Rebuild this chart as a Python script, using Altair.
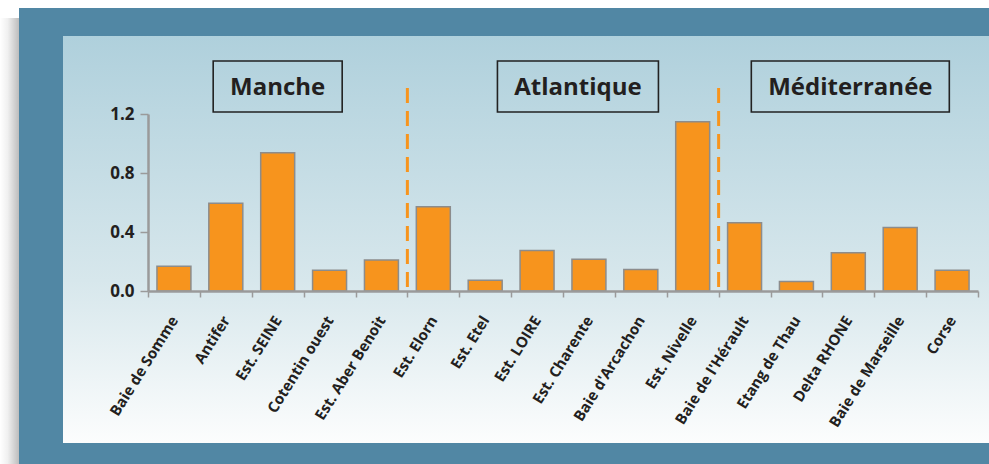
import altair as alt
import pandas as pd

# ---- data ----
categories = ["Baie de Somme", "Antifer", "Est. SEINE", "Cotentin ouest", "Est. Aber Benoit",
              "Est. Elorn", "Est. Etel", "Est. LOIRE", "Est. Charente", "Baie d'Arcachon",
              "Est. Nivelle", "Baie de l'Hérault", "Etang de Thau", "Delta RHONE",
              "Baie de Marseille", "Corse"]
values = [0.167, 0.595, 0.938, 0.140, 0.210,
          0.572, 0.073, 0.274, 0.215, 0.145,
          1.148, 0.463, 0.065, 0.260, 0.431, 0.140]
y_ticks = [0.0, 0.4, 0.8, 1.2]

sections = ["Manche", "Atlantique", "Méditerranée"]
section_anchor = ["Est. SEINE", "Est. Charente", "Delta RHONE"]
boundaries = ["Est. Elorn", "Baie de l'Hérault"]

# ---- layout (pixels) ----
W, H = 830, 177
PAD_L, PAD_T, PAD_R, PAD_B = 148, 114, 11, 173
FONT = "Open Sans"
ORANGE = "#f7941d"
TXT = "#231f20"

df = pd.DataFrame({"cat": categories, "val": values})
one = pd.DataFrame({"k": [0]})

xscale = alt.Scale(domain=categories, paddingInner=0, paddingOuter=0)
yscale = alt.Scale(domain=[0, 1.2], nice=False)

xaxis = alt.Axis(tickBand="extent", labelAngle=302, labelAlign="right",
                 labelBaseline="middle", labelPadding=20, tickSize=6,
                 labelFont=FONT, labelFontWeight="bold", labelFontSize=15,
                 labelColor=TXT, domainColor="#9a9a9a", domainWidth=2.5,
                 tickColor="#9a9a9a", tickWidth=1.5, labelLimit=300, zindex=1)

# background decorations
shadow = alt.Chart(one).mark_rect(
    color=alt.Gradient(gradient="linear",
                       stops=[alt.GradientStop(color="#ffffff", offset=0),
                              alt.GradientStop(color="#f0f0f0", offset=0.4),
                              alt.GradientStop(color="#bdbdbd", offset=1)],
                       x1=0, x2=1, y1=0, y2=0)
).encode(x=alt.value(-PAD_L), x2=alt.value(-129), y=alt.value(-96), y2=alt.value(H + PAD_B))

frame = alt.Chart(one).mark_rect(color="#5187a4").encode(
    x=alt.value(-129), x2=alt.value(W + PAD_R), y=alt.value(-106), y2=alt.value(H + PAD_B))

panel = alt.Chart(one).mark_rect(
    color=alt.Gradient(gradient="linear",
                       stops=[alt.GradientStop(color="#afd0dc", offset=0),
                              alt.GradientStop(color="#d7e7ec", offset=0.6),
                              alt.GradientStop(color="#fcfdfd", offset=1)],
                       x1=0, x2=0, y1=0, y2=1)
).encode(x=alt.value(-85), x2=alt.value(W + PAD_R), y=alt.value(-78), y2=alt.value(329))

bars = alt.Chart(df).mark_bar(
    width=alt.RelativeBandSize(0.655), color=ORANGE, stroke="#8c8c8c", strokeWidth=1.5
).encode(
    x=alt.X("cat:N", scale=xscale, sort=categories, title=None, axis=xaxis),
    y=alt.Y("val:Q", scale=yscale, title=None,
            axis=alt.Axis(values=y_ticks, format=".1f", grid=False, tickSize=8,
                          labelPadding=6, labelFont=FONT, labelFontWeight="bold",
                          labelFontSize=17, labelColor=TXT, domainColor="#9a9a9a",
                          domainWidth=2.5, tickColor="#9a9a9a", tickWidth=1.5, zindex=1)),
)

rules = alt.Chart(pd.DataFrame({"b": boundaries})).mark_rule(
    color=ORANGE, strokeWidth=3, strokeDash=[15, 8]
).encode(
    x=alt.X("b:N", scale=xscale, bandPosition=0, title=None, axis=xaxis),
    y=alt.value(-26), y2=alt.value(H),
)

layers = [shadow, frame, panel, bars, rules]

box_w = [129, 161, 198]
box_dx = [0, -11, 2]
for name, anc, w, dx in zip(sections, section_anchor, box_w, box_dx):
    d = pd.DataFrame({"a": [anc], "t": [name]})
    layers.append(
        alt.Chart(d).mark_bar(width=w, fill="transparent", stroke="#222222",
                              strokeWidth=1.6, xOffset=dx)
        .encode(x=alt.X("a:N", scale=xscale, title=None, axis=xaxis),
                y=alt.value(-53), y2=alt.value(-2)))
    layers.append(
        alt.Chart(d).mark_text(font=FONT, fontWeight="bold", fontSize=24, color=TXT,
                               align="center", baseline="middle", xOffset=dx)
        .encode(x=alt.X("a:N", scale=xscale, title=None, axis=xaxis),
                y=alt.value(-26.5), text="t:N"))

chart = alt.layer(*layers).properties(
    width=W, height=H,
    autosize=alt.AutoSizeParams(type="none"),
    padding={"left": PAD_L, "top": PAD_T, "right": PAD_R, "bottom": PAD_B},
    background="#ffffff",
).configure_view(stroke=None)

chart.save("out.html", embed_options={"renderer": "svg", "actions": False})
